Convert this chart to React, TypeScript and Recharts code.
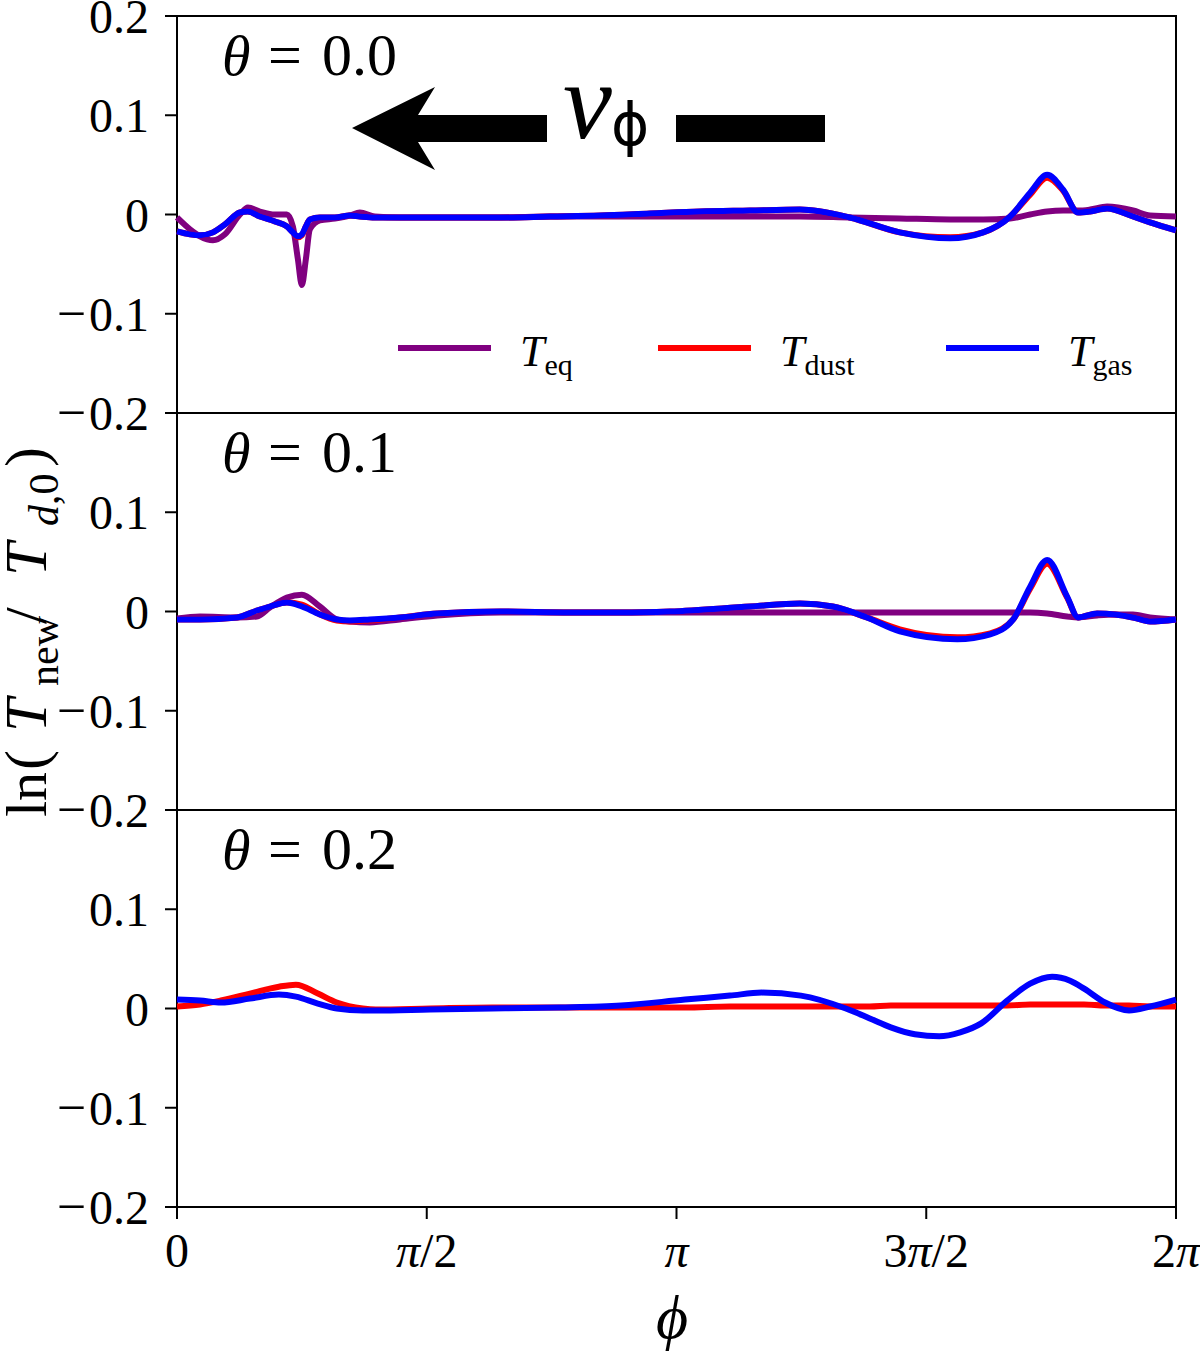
import { LineChart, Line, XAxis, YAxis, ReferenceArea } from 'recharts';

// phi is given in units of pi (0 .. 2)
const xTicks = [0, 0.5, 1, 1.5, 2];
const xTickLabels = ['0', 'π/2', 'π', '3π/2', '2π'];
const yTicksTop = [-0.2, -0.1, 0, 0.1, 0.2];
const yTicksLower = [-0.2, -0.1, 0, 0.1];
const thetaLabels = ['0.0', '0.1', '0.2'];

// theta = 0.0
const phiA = [0, 0.026, 0.046, 0.072, 0.096, 0.126, 0.142, 0.166, 0.196, 0.22, 0.232, 0.242, 0.25, 0.258, 0.266, 0.286, 0.316, 0.346, 0.366, 0.396, 0.446, 0.547, 0.647, 0.747, 0.847, 0.947, 1.047, 1.147, 1.247, 1.347, 1.447, 1.548, 1.614, 1.668, 1.708, 1.742, 1.774, 1.804, 1.828, 1.862, 1.914, 1.948, 2];
const eqA = [-0.003, -0.015, -0.022, -0.026, -0.02, 0.0, 0.007, 0.003, 0.0, 0.0, -0.012, -0.045, -0.071, -0.045, -0.015, -0.006, -0.004, -0.001, 0.002, -0.002, -0.003, -0.003, -0.003, -0.002, -0.002, -0.002, -0.002, -0.002, -0.002, -0.003, -0.004, -0.005, -0.005, -0.004, 0.0, 0.003, 0.004, 0.004, 0.005, 0.008, 0.004, -0.001, -0.002];
const dustA = [-0.017, -0.02, -0.021, -0.018, -0.01, 0.002, 0.003, -0.002, -0.007, -0.012, -0.018, -0.023, -0.021, -0.012, -0.005, -0.003, -0.003, -0.001, -0.002, -0.003, -0.003, -0.003, -0.003, -0.002, -0.001, 0.001, 0.003, 0.004, 0.005, -0.003, -0.018, -0.023, -0.018, -0.002, 0.02, 0.037, 0.024, 0.002, 0.003, 0.006, -0.002, -0.008, -0.016];
const gasA = [-0.017, -0.02, -0.021, -0.018, -0.01, 0.002, 0.003, -0.002, -0.007, -0.012, -0.018, -0.022, -0.02, -0.012, -0.005, -0.003, -0.003, -0.001, -0.002, -0.003, -0.003, -0.003, -0.003, -0.002, -0.001, 0.001, 0.003, 0.004, 0.005, -0.003, -0.018, -0.024, -0.018, -0.002, 0.022, 0.04, 0.025, 0.002, 0.003, 0.006, -0.002, -0.008, -0.016];

// theta = 0.1
const phiB = [0, 0.046, 0.12, 0.16, 0.186, 0.22, 0.25, 0.286, 0.32, 0.346, 0.386, 0.446, 0.521, 0.647, 0.787, 0.887, 0.987, 1.147, 1.247, 1.313, 1.381, 1.447, 1.562, 1.628, 1.674, 1.708, 1.742, 1.782, 1.804, 1.842, 1.878, 1.914, 1.948, 2];
const eqB = [-0.007, -0.005, -0.006, -0.005, 0.004, 0.014, 0.017, 0.005, -0.008, -0.01, -0.011, -0.008, -0.004, -0.001, -0.001, -0.001, -0.001, -0.001, -0.001, -0.001, -0.001, -0.001, -0.001, -0.001, -0.001, -0.001, -0.002, -0.005, -0.006, -0.004, -0.003, -0.003, -0.006, -0.008];
const dustB = [-0.008, -0.008, -0.006, 0.001, 0.005, 0.009, 0.007, -0.003, -0.009, -0.01, -0.009, -0.006, -0.002, 0.0, -0.001, -0.001, 0.0, 0.005, 0.008, 0.005, -0.006, -0.018, -0.026, -0.022, -0.008, 0.023, 0.048, 0.014, -0.006, -0.002, -0.003, -0.006, -0.01, -0.008];
const gasB = [-0.008, -0.008, -0.006, 0.001, 0.005, 0.009, 0.005, -0.003, -0.008, -0.009, -0.008, -0.006, -0.002, 0.0, -0.001, -0.001, 0.0, 0.005, 0.008, 0.005, -0.006, -0.02, -0.028, -0.023, -0.008, 0.025, 0.052, 0.015, -0.006, -0.002, -0.003, -0.006, -0.01, -0.008];

// theta = 0.2
const phiC = [0, 0.046, 0.088, 0.146, 0.204, 0.238, 0.282, 0.32, 0.372, 0.398, 0.507, 0.631, 0.767, 0.889, 1.017, 1.107, 1.171, 1.249, 1.339, 1.387, 1.429, 1.477, 1.526, 1.568, 1.61, 1.662, 1.708, 1.752, 1.788, 1.816, 1.858, 1.906, 1.948, 2];
const dustC = [0.002, 0.004, 0.008, 0.015, 0.022, 0.024, 0.015, 0.006, 0.0, -0.001, 0.0, 0.001, 0.001, 0.001, 0.001, 0.002, 0.002, 0.002, 0.002, 0.002, 0.003, 0.003, 0.003, 0.003, 0.003, 0.003, 0.004, 0.004, 0.004, 0.004, 0.003, 0.003, 0.002, 0.002];
const gasC = [0.009, 0.008, 0.006, 0.01, 0.014, 0.012, 0.005, 0.0, -0.002, -0.002, -0.001, 0.0, 0.001, 0.003, 0.009, 0.013, 0.016, 0.013, 0.0, -0.01, -0.019, -0.026, -0.028, -0.024, -0.015, 0.008, 0.025, 0.032, 0.028, 0.02, 0.006, -0.002, 0.002, 0.009];

const SERIF = "'Liberation Serif', 'DejaVu Serif', serif";
const PURPLE = '#800080';
const RED = '#ff0000';
const BLUE = '#0000ff';

const PLOT_LEFT = 177;
const PLOT_RIGHT = 1176;
const PANEL_H = 397;
const PLOT_TOP = 16;
const PAD = 30;
const YAXIS_W = 110;
const XAXIS_H = 150;

function rows(phi: number[], eq: number[] | null, dust: number[], gas: number[]) {
  return phi.map((p, i) => ({ phi: p, eq: eq ? eq[i] : null, dust: dust[i], gas: gas[i] }));
}

function YTick(props: any) {
  const { x, y, payload } = props;
  const v: number = payload.value;
  const num = v === 0 ? '0' : Math.abs(v).toFixed(1);
  return (
    <text x={x} y={y} dy={17} textAnchor="end" fontSize={48} fontFamily={SERIF} fill="#000">
      {v < 0 && <tspan fontSize={52}>−</tspan>}
      <tspan dx={v < 0 ? 3 : 0}>{num}</tspan>
    </text>
  );
}

function XTick(props: any) {
  const { x, y, payload } = props;
  const label = xTickLabels[xTicks.indexOf(payload.value)] ?? '';
  const parts = label.split('π');
  return (
    <text x={x} y={y} dy={40} textAnchor="middle" fontSize={48} fontFamily={SERIF} fill="#000">
      {parts.length === 1 ? (
        label
      ) : (
        <>
          {parts[0]}
          <tspan fontStyle="italic">π</tspan>
          {parts[1]}
        </>
      )}
    </text>
  );
}

interface PanelProps {
  data: ReturnType<typeof rows>;
  yTicks: number[];
  showX: boolean;
  showEq: boolean;
  top: number;
}

function Panel({ data, yTicks, showX, showEq, top }: PanelProps) {
  const height = PAD + PANEL_H + (showX ? XAXIS_H : PAD);
  return (
    <div style={{ position: 'absolute', left: 0, top: top - PAD }}>
      <LineChart
        width={1200}
        height={height}
        data={data}
        margin={{ top: PAD, right: 1200 - PLOT_RIGHT, left: PLOT_LEFT - YAXIS_W, bottom: showX ? 0 : PAD }}
      >
        <XAxis
          dataKey="phi"
          type="number"
          domain={[0, 2]}
          ticks={xTicks}
          interval={0}
          hide={!showX}
          height={XAXIS_H}
          axisLine={false}
          tickLine={{ stroke: '#000', strokeWidth: 2 }}
          tickSize={12}
          tickMargin={8}
          tick={<XTick />}
        />
        <YAxis
          type="number"
          domain={[-0.2, 0.2]}
          ticks={yTicks}
          interval={0}
          width={YAXIS_W}
          axisLine={false}
          tickLine={{ stroke: '#000', strokeWidth: 2 }}
          tickSize={12}
          tickMargin={16}
          tick={<YTick />}
        />
        {showEq && (
          <Line dataKey="eq" type="monotone" stroke={PURPLE} strokeWidth={6} dot={false} isAnimationActive={false} />
        )}
        <Line dataKey="dust" type="monotone" stroke={RED} strokeWidth={6} dot={false} isAnimationActive={false} />
        <Line dataKey="gas" type="monotone" stroke={BLUE} strokeWidth={6} dot={false} isAnimationActive={false} />
        <ReferenceArea x1={0} x2={2} y1={-0.2} y2={0.2} fill="none" fillOpacity={0} stroke="#000" strokeWidth={2} />
      </LineChart>
    </div>
  );
}

function Overlay() {
  const legend = [
    { color: PURPLE, x: 398, sub: 'eq' },
    { color: RED, x: 658, sub: 'dust' },
    { color: BLUE, x: 946, sub: 'gas' },
  ];
  return (
    <svg
      width={1200}
      height={1355}
      style={{ position: 'absolute', left: 0, top: 0, pointerEvents: 'none' }}
      fontFamily={SERIF}
    >
      {thetaLabels.map((t, i) => {
        const base = PLOT_TOP + 59 + i * PANEL_H;
        return (
          <g key={t}>
            <text x={222} y={base} fontSize={58} fontStyle="italic">θ</text>
            <text x={268} y={base} fontSize={60}>=</text>
            <text x={322} y={base} fontSize={60}>{t}</text>
          </g>
        );
      })}

      {/* v_phi direction arrow */}
      <polygon points="352,128 435,87 418,115 547,115 547,142 418,142 435,170" fill="#000" />
      <rect x={676} y={115} width={149} height={27} fill="#000" />
      <text x={563} y={138} fontSize={110} fontStyle="italic">v</text>
      <text x={611} y={145} fontSize={58} fontFamily="'DejaVu Sans', sans-serif">ϕ</text>

      {/* legend */}
      {legend.map((l) => (
        <g key={l.sub}>
          <line x1={l.x} x2={l.x + 93} y1={348} y2={348} stroke={l.color} strokeWidth={6} />
          <text x={l.x + 122} y={366} fontSize={44}>
            <tspan fontStyle="italic">T</tspan>
            <tspan fontSize={30} dy={9}>{l.sub}</tspan>
          </text>
        </g>
      ))}

      {/* y axis label, rotated; x runs upward along the page */}
      <g transform="translate(46, 620) rotate(-90)">
        <text x={-197} y={0} fontSize={58}>ln</text>
        <text x={-150} y={0} fontSize={60}>(</text>
        <text x={-112} y={0} fontSize={60} fontStyle="italic">T</text>
        <text x={-66} y={12} fontSize={42}>new</text>
        <text x={-4} y={0} fontSize={60}>/</text>
        <text x={44} y={0} fontSize={60} fontStyle="italic">T</text>
        <text x={94} y={12} fontSize={42}>
          <tspan fontStyle="italic">d</tspan>,0
        </text>
        <text x={153} y={0} fontSize={60}>)</text>
      </g>

      {/* x axis label */}
      <text x={672} y={1338} textAnchor="middle" fontSize={62} fontStyle="italic">ϕ</text>
    </svg>
  );
}

export default function App() {
  return (
    <div style={{ position: 'absolute', left: 0, top: 0, width: 1200, height: 1355, background: '#fff' }}>
      <Panel data={rows(phiA, eqA, dustA, gasA)} yTicks={yTicksTop} showX={false} showEq top={PLOT_TOP} />
      <Panel data={rows(phiB, eqB, dustB, gasB)} yTicks={yTicksLower} showX={false} showEq top={PLOT_TOP + PANEL_H} />
      <Panel data={rows(phiC, null, dustC, gasC)} yTicks={yTicksLower} showX showEq={false} top={PLOT_TOP + 2 * PANEL_H} />
      <Overlay />
    </div>
  );
}
